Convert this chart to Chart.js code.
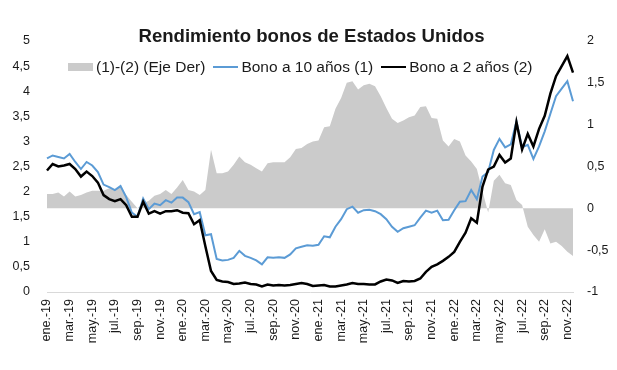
<!DOCTYPE html>
<html lang="es">
<head>
<meta charset="utf-8">
<title>Rendimiento bonos de Estados Unidos</title>
<script src="https://cdn.jsdelivr.net/npm/chart.js@4.4.1/dist/chart.umd.min.js"></script>
<style>
    html, body { margin: 0; padding: 0; background: #fff; }
    #wrap { position: relative; width: 617px; height: 370px; font-family: 'Liberation Sans', Arial, sans-serif; color: #1a1a1a; }
    #title { position: absolute; left: 0; top: 25px; width: 623px; text-align: center; font-weight: bold; font-size: 18.6px; line-height: 22px; }
    #legend { position: absolute; left: 68px; top: 58px; display: flex; align-items: center; font-size: 15.5px; line-height: 18px; white-space: nowrap; }
    .item { display: flex; align-items: center; margin-right: 8px; }
    .swatch { width: 25px; margin-right: 3px; }
</style>
</head>
<body>
<div id="wrap">
    <canvas id="bondChart" width="617" height="370"></canvas>
    <div id="title">Rendimiento bonos de Estados Unidos</div>
    <div id="legend"></div>
</div>
<script>
// ============ datos (dos puntos por mes: día 1 y día 16) ============
const monthLabels = [
    'ene.-19', 'mar.-19', 'may.-19', 'jul.-19', 'sep.-19', 'nov.-19',
    'ene.-20', 'mar.-20', 'may.-20', 'jul.-20', 'sep.-20', 'nov.-20',
    'ene.-21', 'mar.-21', 'may.-21', 'jul.-21', 'sep.-21', 'nov.-21',
    'ene.-22', 'mar.-22', 'may.-22', 'jul.-22', 'sep.-22', 'nov.-22'
];

// Bono a 10 años (1) - eje izquierdo
const tenYear = [
    2.66, 2.72, 2.69, 2.66, 2.75, 2.59, 2.45, 2.59, 2.52, 2.39, 2.14, 2.09,
    2.03, 2.11, 1.89, 1.58, 1.50, 1.86, 1.65, 1.76, 1.73, 1.83, 1.78, 1.88,
    1.88, 1.79, 1.55, 1.59, 1.13, 1.15, 0.66, 0.63, 0.64, 0.68, 0.82, 0.72,
    0.68, 0.63, 0.55, 0.69, 0.68, 0.69, 0.68, 0.75, 0.87, 0.90, 0.93, 0.92,
    0.94, 1.11, 1.09, 1.30, 1.45, 1.65, 1.70, 1.58, 1.63, 1.64, 1.61, 1.55,
    1.45, 1.30, 1.20, 1.27, 1.30, 1.33, 1.48, 1.62, 1.58, 1.62, 1.43, 1.44,
    1.63, 1.80, 1.81, 2.03, 1.85, 2.30, 2.39, 2.83, 3.05, 2.88, 2.94, 3.40,
    2.88, 2.93, 2.65, 2.90, 3.20, 3.55, 3.90, 4.05, 4.20, 3.80
];

// Bono a 2 años (2) - eje izquierdo
const twoYear = [
    2.42, 2.55, 2.50, 2.52, 2.55, 2.45, 2.30, 2.40, 2.31, 2.18, 1.93, 1.85,
    1.81, 1.85, 1.73, 1.50, 1.50, 1.80, 1.56, 1.61, 1.56, 1.61, 1.61, 1.63,
    1.58, 1.57, 1.35, 1.43, 0.91, 0.42, 0.24, 0.21, 0.20, 0.16, 0.17, 0.19,
    0.16, 0.15, 0.11, 0.15, 0.13, 0.14, 0.13, 0.14, 0.16, 0.18, 0.16, 0.12,
    0.13, 0.14, 0.11, 0.11, 0.13, 0.15, 0.18, 0.16, 0.16, 0.15, 0.15, 0.21,
    0.25, 0.23, 0.18, 0.22, 0.21, 0.22, 0.27, 0.40, 0.50, 0.55, 0.62, 0.70,
    0.80, 1.00, 1.18, 1.47, 1.38, 2.10, 2.44, 2.50, 2.73, 2.58, 2.66, 3.38,
    2.84, 3.15, 2.90, 3.25, 3.51, 3.95, 4.30, 4.50, 4.70, 4.37
];

// (1)-(2) - eje derecho
const spread = [
    0.17, 0.17, 0.19, 0.14, 0.20, 0.14, 0.16, 0.19, 0.21, 0.21, 0.21, 0.24,
    0.22, 0.26, 0.16, 0.08, 0.00, 0.06, 0.09, 0.15, 0.17, 0.22, 0.17, 0.25,
    0.34, 0.22, 0.20, 0.16, 0.22, 0.70, 0.42, 0.42, 0.44, 0.52, 0.62, 0.55,
    0.52, 0.48, 0.44, 0.54, 0.55, 0.55, 0.55, 0.61, 0.71, 0.72, 0.77, 0.80,
    0.81, 0.97, 0.98, 1.19, 1.32, 1.50, 1.52, 1.42, 1.47, 1.49, 1.46, 1.34,
    1.20, 1.07, 1.02, 1.05, 1.09, 1.11, 1.21, 1.22, 1.08, 1.07, 0.81, 0.74,
    0.83, 0.80, 0.63, 0.56, 0.47, 0.20, -0.05, 0.33, 0.40, 0.30, 0.28, 0.10,
    0.04, -0.22, -0.32, -0.40, -0.25, -0.42, -0.40, -0.45, -0.52, -0.57
];

// categorías: una etiqueta cada 4 puntos (cada 2 meses)
const categories = tenYear.map((_, i) => (i % 4 === 0 ? monthLabels[i / 4] : ''));

const fmt = v => String(v).replace('.', ',');
const textColor = '#1a1a1a';
const fontFamily = "'Liberation Sans', Arial, sans-serif";

const datasets = [
    {
        label: '(1)-(2) (Eje Der)',
        data: spread,
        yAxisID: 'y1',
        backgroundColor: '#cbcbcb',
        borderWidth: 0,
        fill: 'origin',
        order: 3
    },
    {
        label: 'Bono a 10 años (1)',
        data: tenYear,
        yAxisID: 'y',
        borderColor: '#5b9bd5',
        borderWidth: 2,
        fill: false,
        order: 2
    },
    {
        label: 'Bono a 2 años (2)',
        data: twoYear,
        yAxisID: 'y',
        borderColor: '#000000',
        borderWidth: 2.5,
        fill: false,
        order: 1
    }
];

new Chart(document.getElementById('bondChart'), {
    type: 'line',
    data: { labels: categories, datasets },
    options: {
        responsive: false,
        animation: false,
        devicePixelRatio: 1,
        layout: { padding: { top: 41, left: 0, right: 0, bottom: 0 } },
        elements: { point: { radius: 0 }, line: { tension: 0 } },
        plugins: {
            legend: { display: false },
            title: { display: false },
            tooltip: { enabled: false }
        },
        scales: {
            x: {
                offset: false,
                grid: { display: false, drawTicks: false },
                border: { display: true, color: '#d9d9d9', width: 1 },
                ticks: {
                    autoSkip: false,
                    minRotation: 90,
                    maxRotation: 90,
                    padding: 7,
                    color: textColor,
                    font: { family: fontFamily, size: 12.5 }
                },
                afterFit: s => { s.height = 78; }
            },
            y: {
                position: 'left',
                min: 0,
                max: 5,
                grid: { display: false, drawTicks: false },
                border: { display: false },
                ticks: {
                    stepSize: 0.5,
                    padding: 17,
                    color: textColor,
                    font: { family: fontFamily, size: 12.5 },
                    callback: v => fmt(v)
                },
                afterFit: s => { s.width = 47; }
            },
            y1: {
                position: 'right',
                min: -1,
                max: 2,
                grid: { display: false, drawTicks: false },
                border: { display: false },
                ticks: {
                    stepSize: 0.5,
                    padding: 14,
                    color: textColor,
                    font: { family: fontFamily, size: 12.5 },
                    callback: v => fmt(v)
                },
                afterFit: s => { s.width = 44; }
            }
        }
    }
});

// ============ leyenda HTML (dentro del área del gráfico) ============
const legendEl = document.getElementById('legend');
datasets.forEach(ds => {
    const item = document.createElement('div');
    item.className = 'item';
    const sw = document.createElement('span');
    sw.className = 'swatch';
    if (ds.fill) {
        sw.style.height = '8px';
        sw.style.background = ds.backgroundColor;
    } else {
        sw.style.height = '0';
        sw.style.borderTop = ds.borderWidth + 'px solid ' + ds.borderColor;
    }
    const txt = document.createElement('span');
    txt.textContent = ds.label;
    item.appendChild(sw);
    item.appendChild(txt);
    legendEl.appendChild(item);
});
</script>
</body>
</html>
